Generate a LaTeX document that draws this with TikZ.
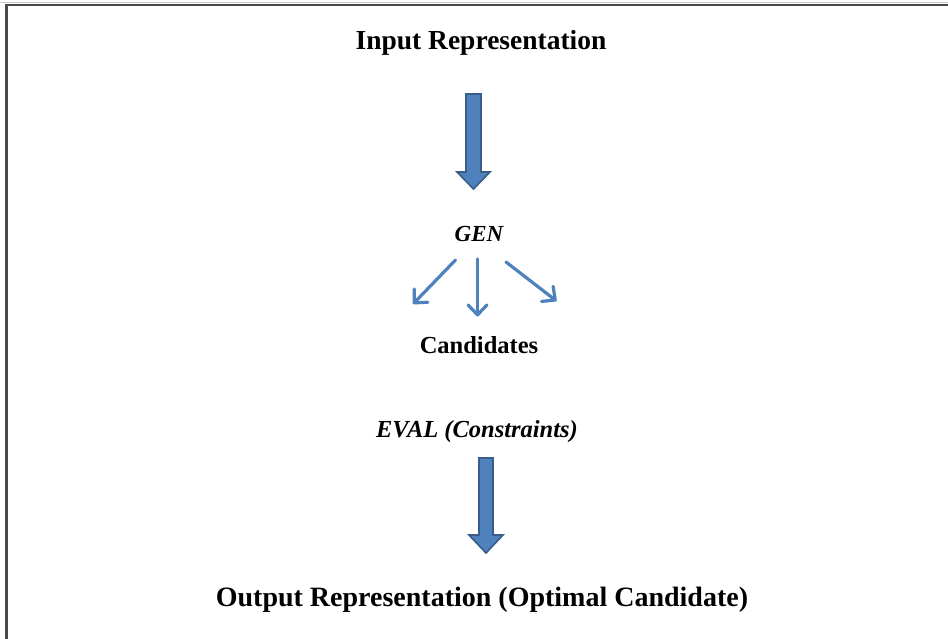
\documentclass[tikz,border=0pt]{standalone}
\usepackage{fontspec}
\setmainfont{Liberation Serif}
\usetikzlibrary{arrows.meta}
\definecolor{blockfill}{HTML}{4F81BD}
\definecolor{blockedge}{HTML}{385D8A}
\definecolor{thinblue}{HTML}{4F81BD}
\definecolor{framecol}{HTML}{4A4A4A}
\tikzset{
  label/.style={inner sep=0pt, anchor=base, text=black},
  blockarrow/.style={fill=blockfill, draw=blockedge, line width=1.6pt, line join=miter},
  thinarrow/.style={draw=thinblue, line width=3.2pt, line cap=round,
    -{Straight Barb[length=10pt,width=19pt,line width=3.2pt,round]}},
}
\begin{document}
\begin{tikzpicture}[x=1pt,y=-1pt]
\useasboundingbox (0,0) rectangle (948,639);
\fill[white] (0,0) rectangle (948,639);
% frame
\draw[framecol, line width=2.2pt] (6.5,645) -- (6.5,5) -- (950,5);
\draw[gray!40, line width=1pt] (0,2.5) -- (948,2.5);

% texts
\node[label, font=\fontsize{27.5}{30}\selectfont\bfseries] (input) at (481,50) {Input Representation};
\node[label, font=\fontsize{23}{26}\selectfont\bfseries\itshape] (gen) at (479,242) {GEN};
\node[label, font=\fontsize{24.5}{27}\selectfont\bfseries] (cand) at (479,353.5) {Candidates};
\node[label, font=\fontsize{24.5}{27}\selectfont\bfseries\itshape] (eval) at (477,437) {EVAL (Constraints)};
\node[label, font=\fontsize{28}{31}\selectfont\bfseries] (output) at (482,606) {Output Representation (Optimal Candidate)};

% top block arrow (Input -> GEN)
\draw[blockarrow] (466,94) -- (481,94) -- (481,172) -- (490,172) -- (473.5,189)
  -- (457,172) -- (466,172) -- cycle;

% bottom block arrow (EVAL -> Output)
\draw[blockarrow] (479,458) -- (493,458) -- (493,535) -- (503,535) -- (486,553)
  -- (469,535) -- (479,535) -- cycle;

% GEN -> candidates arrows
\coordinate (s1) at (455.5,260);
\coordinate (e1) at (413,304);
\coordinate (s2) at (477.5,259);
\coordinate (e2) at (477.5,316.5);
\coordinate (s3) at (506,262);
\coordinate (e3) at (556.5,301);
\draw[thinarrow] (s1) -- (e1);
\draw[thinarrow] (s2) -- (e2);
\draw[thinarrow] (s3) -- (e3);
\end{tikzpicture}
\end{document}
